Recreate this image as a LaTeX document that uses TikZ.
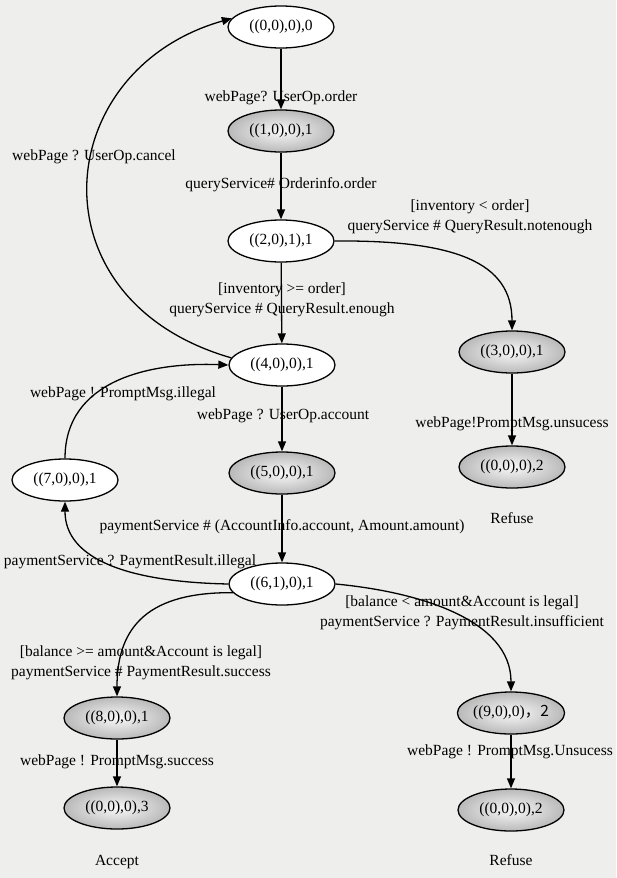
\documentclass[tikz,border=0pt]{standalone}
\usepackage{fontspec}
\setmainfont{Liberation Serif}
\newfontfamily\cjk{Noto Sans CJK SC}
\usetikzlibrary{shapes.geometric,arrows.meta}
\definecolor{paper}{RGB}{238,238,236}
\begin{document}
\begin{tikzpicture}[x=1pt,y=-1pt,
  base/.style={ellipse,draw,line width=1.3pt,minimum width=106pt,minimum height=42pt,
    inner sep=0pt,font=\fontsize{15.5}{18}\selectfont},
  plain/.style={base,fill=white},
  hot/.style={base,shade,inner color=gray!5,outer color=gray!55},
  lbl/.style={font=\fontsize{15.5}{19.5}\selectfont,align=center,inner sep=0pt},
  tr/.style={line width=1.3pt,-{Triangle[length=10pt,width=8pt]}}]
\fill[paper] (0,0) rectangle (616,878);
\useasboundingbox (0,0) rectangle (616,878);

% states
\node[plain] (n0) at (281,27)  {((0,0),0),0};
\node[hot]   (n1) at (281,131) {((1,0),0),1};
\node[plain] (n2) at (281,241) {((2,0),1),1};
\node[hot]   (n3) at (512,352) {((3,0),0),1};
\node[plain] (n4) at (282,365) {((4,0),0),1};
\node[hot]   (r1) at (512,467) {((0,0),0),2};
\node[hot]   (n5) at (282,473) {((5,0),0),1};
\node[plain] (n7) at (65,480)  {((7,0),0),1};
\node[plain] (n6) at (282,584) {((6,1),0),1};
\node[hot]   (n8) at (117,718) {((8,0),0),1};
\node[hot]   (n9) at (511,713) {((9,0),0)\cjk{，}2};
\node[hot]   (acc) at (117,808) {((0,0),0),3};
\node[hot]   (r2) at (511,810) {((0,0),0),2};

% final verdicts
\node[lbl] (t1) at (512,518) {Refuse};
\node[lbl] (t2) at (117,862) {Accept};
\node[lbl] (t3) at (511,860) {Refuse};

% transition labels
\node[lbl] (l1) at (281,98)  {webPage? UserOp.order};
\node[lbl] (l2) at (281,185) {queryService\# Orderinfo.order};
\node[lbl] (l3) at (470,217) {[inventory < order]\\queryService \# QueryResult.notenough};
\node[lbl] (l4) at (282,300) {[inventory >= order]\\queryService \# QueryResult.enough};
\node[lbl] (l5) at (94,157)  {webPage ? UserOp.cancel};
\node[lbl] (l6) at (512,424) {webPage!PromptMsg.unsucess};
\node[lbl] (l7) at (123,394) {webPage ! PromptMsg.illegal};
\node[lbl] (l8) at (283,416) {webPage ? UserOp.account};
\node[lbl] (l9) at (282,527) {paymentService \# (AccountInfo.account, Amount.amount)};
\node[lbl] (l10) at (130,562) {paymentService ? PaymentResult.illegal};
\node[lbl] (l11) at (462,613) {[balance < amount\&Account is legal]\\paymentService ? PaymentResult.insufficient};
\node[lbl] (l12) at (141,663) {[balance >= amount\&Account is legal]\\paymentService \# PaymentResult.success};
\node[lbl] (l13) at (117,762) {webPage ! PromptMsg.success};
\node[lbl] (l14) at (510,752) {webPage ! PromptMsg.Unsucess};

% transitions
\draw[tr] (n0) -- (n1);
\draw[tr] (n1) -- (n2);
\draw[tr] (n2) -- (n4);
\draw[tr] (n4) -- (n5);
\draw[tr] (n5) -- (n6);
\draw[tr] (n3) -- (r1);
\draw[tr] (n8) -- (acc);
\draw[tr] (n9) -- (r2);
\draw[tr] (n2.east) .. controls (455,240) and (512,262) .. (n3.north);
\draw[tr] (n4.172) .. controls (30,300) and (50,70) .. (n0.170);
\draw[tr] (n7.north) .. controls (65,380) and (150,362) .. (n4.west);
\draw[tr] (n6.west) .. controls (130,582) and (65,560) .. (n7.south);
\draw[tr] (n6.190) .. controls (150,592) and (117,625) .. (n8.north);
\draw[tr] (n6.east) .. controls (420,592) and (511,620) .. (n9.north);
\end{tikzpicture}
\end{document}
